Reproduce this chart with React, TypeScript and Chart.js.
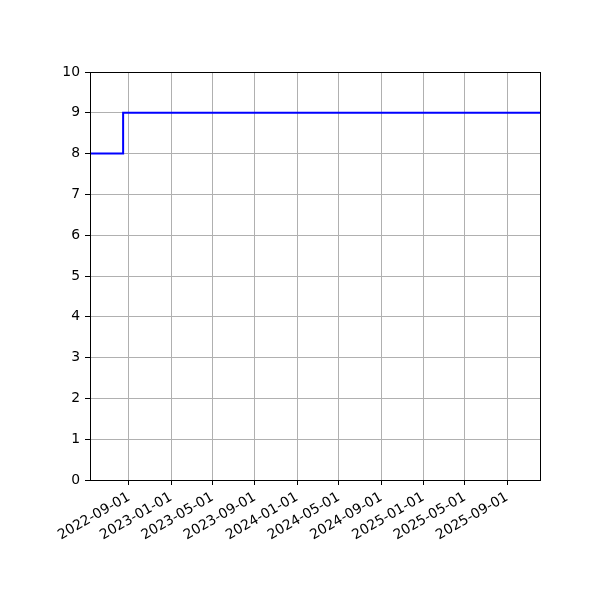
import { useEffect, useRef } from "react";
import { Chart, registerables } from "chart.js";

Chart.register(...registerables);

// step series: value holds from each date until the next one
const stepDates = ["2022-05-11", "2022-08-15", "2025-12-05"];
const stepValues = [8, 9, 9];

const xTickDates = [
  "2022-09-01",
  "2023-01-01",
  "2023-05-01",
  "2023-09-01",
  "2024-01-01",
  "2024-05-01",
  "2024-09-01",
  "2025-01-01",
  "2025-05-01",
  "2025-09-01",
];
const yTickValues = [0, 1, 2, 3, 4, 5, 6, 7, 8, 9, 10];

const toTime = (d: string) => Date.parse(d);
const fmtDate = (v: number) => new Date(v).toISOString().slice(0, 10);

const framePlugin = {
  id: "frame",
  afterDraw(chart: Chart) {
    const { ctx, chartArea } = chart;
    const l = Math.round(chartArea.left) + 0.5;
    const t = Math.round(chartArea.top) + 0.5;
    const r = Math.round(chartArea.right) + 0.5;
    const b = Math.round(chartArea.bottom) + 0.5;
    ctx.save();
    ctx.strokeStyle = "#000";
    ctx.lineWidth = 1;
    ctx.strokeRect(l, t, r - l, b - t);
    ctx.restore();
  },
};

export default function App() {
  const canvasRef = useRef<HTMLCanvasElement>(null);
  const chartRef = useRef<Chart | null>(null);

  useEffect(() => {
    if (!canvasRef.current) return;
    if (chartRef.current) chartRef.current.destroy();

    const font = { family: "DejaVu Sans", size: 13.9 };

    chartRef.current = new Chart(canvasRef.current, {
      type: "line",
      data: {
        datasets: [
          {
            data: stepDates.map((d, i) => ({ x: toTime(d), y: stepValues[i] })),
            borderColor: "#0000ff",
            borderWidth: 2,
            pointRadius: 0,
            stepped: true,
            fill: false,
          },
        ],
      },
      options: {
        animation: false,
        responsive: true,
        maintainAspectRatio: false,
        layout: { padding: { top: 72, right: 60, left: 0, bottom: 0 } },
        plugins: {
          legend: { display: false },
          tooltip: { enabled: false },
        },
        scales: {
          x: {
            type: "linear",
            min: toTime(stepDates[0]),
            max: toTime(stepDates[stepDates.length - 1]),
            afterBuildTicks: (scale) => {
              scale.ticks = xTickDates.map((d) => ({ value: toTime(d) }));
            },
            afterFit: (scale) => {
              scale.height = 120;
            },
            border: { display: false },
            grid: {
              color: "#b0b0b0",
              lineWidth: 1,
              tickColor: "#000",
              tickLength: 5,
            },
            ticks: {
              color: "#000",
              font,
              padding: 4,
              minRotation: 30,
              maxRotation: 30,
              autoSkip: false,
              callback: (v) => fmtDate(Number(v)),
            },
          },
          y: {
            min: 0,
            max: 10,
            afterBuildTicks: (scale) => {
              scale.ticks = yTickValues.map((v) => ({ value: v }));
            },
            afterFit: (scale) => {
              scale.width = 90;
            },
            border: { display: false },
            grid: {
              color: "#b0b0b0",
              lineWidth: 1,
              tickColor: "#000",
              tickLength: 5,
            },
            ticks: {
              color: "#000",
              font,
              padding: 5,
              callback: (v) => String(v),
            },
          },
        },
      },
      plugins: [framePlugin],
    });

    return () => {
      if (chartRef.current) {
        chartRef.current.destroy();
        chartRef.current = null;
      }
    };
  }, []);

  return (
    <div style={{ position: "fixed", left: 0, top: 0, width: 600, height: 600, background: "#fff" }}>
      <canvas ref={canvasRef} />
    </div>
  );
}
